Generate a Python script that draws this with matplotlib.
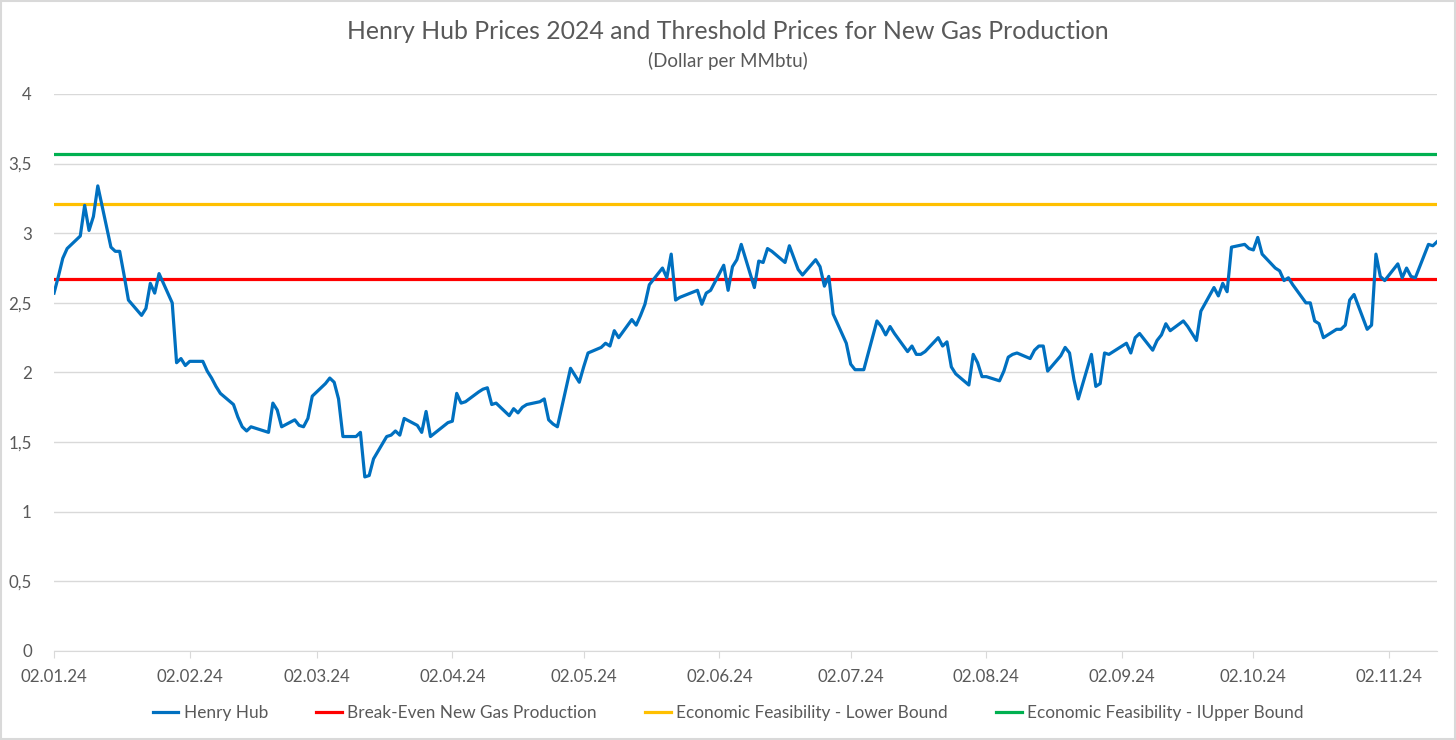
import matplotlib
matplotlib.use("Agg")
import matplotlib.pyplot as plt
import matplotlib.dates as mdates
from matplotlib.ticker import FuncFormatter
from matplotlib.patches import Rectangle
import pandas as pd

# Henry Hub spot prices 2024 (USD/MMBtu)
dates = [
    "2024-01-02", "2024-01-03", "2024-01-04", "2024-01-05", "2024-01-08", "2024-01-09", "2024-01-10",
    "2024-01-11", "2024-01-12", "2024-01-15", "2024-01-16", "2024-01-17", "2024-01-18", "2024-01-19",
    "2024-01-22", "2024-01-23", "2024-01-24", "2024-01-25", "2024-01-26", "2024-01-29", "2024-01-30",
    "2024-01-31", "2024-02-01", "2024-02-02", "2024-02-05", "2024-02-06", "2024-02-07", "2024-02-08",
    "2024-02-09", "2024-02-12", "2024-02-13", "2024-02-14", "2024-02-15", "2024-02-16", "2024-02-20",
    "2024-02-21", "2024-02-22", "2024-02-23", "2024-02-26", "2024-02-27", "2024-02-28", "2024-02-29",
    "2024-03-01", "2024-03-04", "2024-03-05", "2024-03-06", "2024-03-07", "2024-03-08", "2024-03-11",
    "2024-03-12", "2024-03-13", "2024-03-14", "2024-03-15", "2024-03-18", "2024-03-19", "2024-03-20",
    "2024-03-21", "2024-03-22", "2024-03-25", "2024-03-26", "2024-03-27", "2024-03-28", "2024-04-01",
    "2024-04-02", "2024-04-03", "2024-04-04", "2024-04-05", "2024-04-08", "2024-04-09", "2024-04-10",
    "2024-04-11", "2024-04-12", "2024-04-15", "2024-04-16", "2024-04-17", "2024-04-18", "2024-04-19",
    "2024-04-22", "2024-04-23", "2024-04-24", "2024-04-25", "2024-04-26", "2024-04-29", "2024-04-30",
    "2024-05-01", "2024-05-02", "2024-05-03", "2024-05-06", "2024-05-07", "2024-05-08", "2024-05-09",
    "2024-05-10", "2024-05-13", "2024-05-14", "2024-05-15", "2024-05-16", "2024-05-17", "2024-05-20",
    "2024-05-21", "2024-05-22", "2024-05-23", "2024-05-24", "2024-05-28", "2024-05-29", "2024-05-30",
    "2024-05-31", "2024-06-03", "2024-06-04", "2024-06-05", "2024-06-06", "2024-06-07", "2024-06-10",
    "2024-06-11", "2024-06-12", "2024-06-13", "2024-06-14", "2024-06-17", "2024-06-18", "2024-06-20",
    "2024-06-21", "2024-06-24", "2024-06-25", "2024-06-26", "2024-06-27", "2024-06-28", "2024-07-01",
    "2024-07-02", "2024-07-03", "2024-07-05", "2024-07-08", "2024-07-09", "2024-07-10", "2024-07-11",
    "2024-07-12", "2024-07-15", "2024-07-16", "2024-07-17", "2024-07-18", "2024-07-19", "2024-07-22",
    "2024-07-23", "2024-07-24", "2024-07-25", "2024-07-26", "2024-07-29", "2024-07-30", "2024-07-31",
    "2024-08-01", "2024-08-02", "2024-08-05", "2024-08-06", "2024-08-07", "2024-08-08", "2024-08-09",
    "2024-08-12", "2024-08-13", "2024-08-14", "2024-08-15", "2024-08-16", "2024-08-19", "2024-08-20",
    "2024-08-21", "2024-08-22", "2024-08-23", "2024-08-26", "2024-08-27", "2024-08-28", "2024-08-29",
    "2024-08-30", "2024-09-03", "2024-09-04", "2024-09-05", "2024-09-06", "2024-09-09", "2024-09-10",
    "2024-09-11", "2024-09-12", "2024-09-13", "2024-09-16", "2024-09-17", "2024-09-18", "2024-09-19",
    "2024-09-20", "2024-09-23", "2024-09-24", "2024-09-25", "2024-09-26", "2024-09-27", "2024-09-30",
    "2024-10-01", "2024-10-02", "2024-10-03", "2024-10-04", "2024-10-07", "2024-10-08", "2024-10-09",
    "2024-10-10", "2024-10-11", "2024-10-14", "2024-10-15", "2024-10-16", "2024-10-17", "2024-10-18",
    "2024-10-21", "2024-10-22", "2024-10-23", "2024-10-24", "2024-10-25", "2024-10-28", "2024-10-29",
    "2024-10-30", "2024-10-31", "2024-11-01", "2024-11-04", "2024-11-05", "2024-11-06", "2024-11-07",
    "2024-11-08", "2024-11-11", "2024-11-12", "2024-11-13",
]
henry_hub = [
    2.57, 2.69, 2.82, 2.89, 2.98, 3.20, 3.02,
    3.12, 3.34, 2.90, 2.87, 2.87, 2.70, 2.52,
    2.41, 2.46, 2.64, 2.57, 2.71, 2.50, 2.07,
    2.10, 2.05, 2.08, 2.08, 2.01, 1.96, 1.90,
    1.85, 1.77, 1.68, 1.61, 1.58, 1.61, 1.57,
    1.78, 1.73, 1.61, 1.66, 1.62, 1.61, 1.67,
    1.83, 1.92, 1.96, 1.93, 1.81, 1.54, 1.54,
    1.57, 1.25, 1.26, 1.38, 1.54, 1.55, 1.58,
    1.55, 1.67, 1.62, 1.57, 1.72, 1.54, 1.64,
    1.65, 1.85, 1.78, 1.79, 1.86, 1.88, 1.89,
    1.77, 1.78, 1.69, 1.74, 1.71, 1.75, 1.77,
    1.79, 1.81, 1.66, 1.63, 1.61, 2.03, 1.98,
    1.93, 2.04, 2.14, 2.18, 2.21, 2.19, 2.30,
    2.25, 2.38, 2.34, 2.41, 2.49, 2.63, 2.75,
    2.68, 2.85, 2.52, 2.54, 2.59, 2.49, 2.57,
    2.59, 2.77, 2.59, 2.76, 2.81, 2.92, 2.61,
    2.80, 2.79, 2.89, 2.87, 2.79, 2.91, 2.74,
    2.70, 2.81, 2.76, 2.62, 2.69, 2.42, 2.21,
    2.06, 2.02, 2.02, 2.37, 2.33, 2.27, 2.33,
    2.28, 2.15, 2.19, 2.13, 2.13, 2.15, 2.25,
    2.19, 2.22, 2.04, 1.99, 1.91, 2.13, 2.07,
    1.97, 1.97, 1.94, 2.01, 2.11, 2.13, 2.14,
    2.10, 2.16, 2.19, 2.19, 2.01, 2.12, 2.18,
    2.14, 1.95, 1.81, 2.13, 1.90, 1.92, 2.14,
    2.13, 2.21, 2.14, 2.25, 2.28, 2.16, 2.23,
    2.27, 2.35, 2.30, 2.37, 2.33, 2.28, 2.23,
    2.44, 2.61, 2.55, 2.64, 2.58, 2.90, 2.92,
    2.89, 2.88, 2.97, 2.85, 2.75, 2.73, 2.66,
    2.68, 2.63, 2.50, 2.50, 2.37, 2.35, 2.25,
    2.31, 2.31, 2.34, 2.52, 2.56, 2.31, 2.34,
    2.85, 2.69, 2.66, 2.78, 2.68, 2.75, 2.69,
    2.68, 2.92, 2.91, 2.94,
]

# threshold prices
break_even = 2.67
lower_bound = 3.21
upper_bound = 3.57

series_labels = ["Henry Hub", "Break-Even New Gas Production",
                 "Economic Feasibility - Lower Bound", "Economic Feasibility - IUpper Bound"]
tick_dates = ["2024-01-02", "2024-02-02", "2024-03-02", "2024-04-02", "2024-05-02", "2024-06-02",
              "2024-07-02", "2024-08-02", "2024-09-02", "2024-10-02", "2024-11-02"]
y_ticks = [0, 0.5, 1, 1.5, 2, 2.5, 3, 3.5, 4]

plt.rcParams['font.family'] = ['Lato', 'DejaVu Sans']
text_color = "#595959"
grid_color = "#D9D9D9"

x = pd.to_datetime(dates)
fig = plt.figure(figsize=(14.56, 7.40), dpi=100)
ax = fig.add_axes([0.0371, 0.1203, 0.9500, 0.7527])

ax.plot(x, henry_hub, color="#0070C0", lw=2.3, label=series_labels[0], zorder=4)
ax.plot(x, [break_even] * len(x), color="#FF0000", lw=2.3, label=series_labels[1], zorder=3)
ax.plot(x, [lower_bound] * len(x), color="#FFC000", lw=2.3, label=series_labels[2], zorder=3)
ax.plot(x, [upper_bound] * len(x), color="#00B050", lw=2.3, label=series_labels[3], zorder=3)

ax.set_xlim(x[0], x[-1])
ax.set_ylim(0, 4)
ax.set_yticks(y_ticks)
ax.yaxis.set_major_formatter(FuncFormatter(lambda v, p: ("%g" % v).replace(".", ",")))
ax.set_xticks(pd.to_datetime(tick_dates))
ax.xaxis.set_major_formatter(mdates.DateFormatter("%d.%m.%y"))

ax.grid(axis="y", color=grid_color, lw=1)
ax.set_axisbelow(True)
for s in ["top", "right", "left"]:
    ax.spines[s].set_visible(False)
ax.spines["bottom"].set_color(grid_color)
ax.tick_params(axis="y", length=0, pad=16, labelsize=12.2, labelcolor=text_color)
ax.tick_params(axis="x", length=5, color=grid_color, pad=8, labelsize=12.2, labelcolor=text_color)

fig.text(0.5, 0.958, "Henry Hub Prices 2024 and Threshold Prices for New Gas Production",
         ha="center", va="center", fontsize=17.9, color=text_color)
fig.text(0.5, 0.918, "(Dollar per MMbtu)", ha="center", va="center", fontsize=13.5, color=text_color)

fig.legend(loc="center", bbox_to_anchor=(0.5, 0.036), ncol=4, frameon=False,
           fontsize=12.4, labelcolor=text_color, handlelength=1.5, handletextpad=0.3,
           columnspacing=2.8)

fig.patches.append(Rectangle((0.001, 0.001), 0.998, 0.998, transform=fig.transFigure,
                             fill=False, edgecolor=grid_color, lw=1.5))

fig.savefig("out.png", dpi=100, facecolor="white")
